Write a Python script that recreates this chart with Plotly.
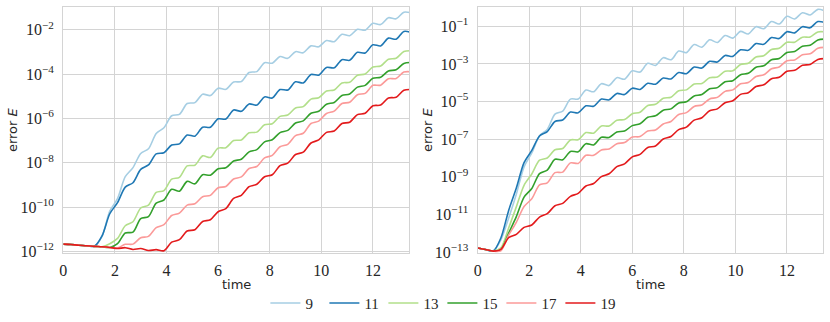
import plotly.graph_objects as go
from plotly.subplots import make_subplots

# time samples (same grid for both panels)
TIME = [0.0, 0.3, 0.6, 0.9, 1.2, 1.5, 1.8, 2.1, 2.4, 2.7, 3.0, 3.3, 3.6, 3.9,
        4.2, 4.5, 4.8, 5.1, 5.4, 5.7, 6.0, 6.3, 6.6, 6.9, 7.2, 7.5, 7.8, 8.1,
        8.4, 8.7, 9.0, 9.3, 9.6, 9.9, 10.2, 10.5, 10.8, 11.1, 11.4, 11.7,
        12.0, 12.3, 12.6, 12.9, 13.2, 13.5]

LABELS = ['9', '11', '13', '15', '17', '19']
COLORS = ['#a6cee3', '#1f78b4', '#b2df8a', '#33a02c', '#fb9a99', '#e31a1c']

# log10 of the error E, left panel
LEFT_9 = [-11.67, -11.69, -11.72, -11.74, -11.77, -11.32, -10.18, -9.62, -8.63, -8.22,
          -7.58, -7.37, -6.68, -6.42, -5.88, -5.82, -5.33, -5.29, -4.91, -4.97,
          -4.64, -4.69, -4.36, -4.34, -3.93, -3.89, -3.49, -3.51, -3.21, -3.29,
          -2.99, -3.04, -2.73, -2.77, -2.49, -2.54, -2.21, -2.27, -1.98, -2.02,
          -1.71, -1.77, -1.46, -1.51, -1.21, -1.24]
LEFT_11 = [-11.67, -11.69, -11.72, -11.74, -11.77, -11.3, -10.3, -9.8, -9.1, -8.9,
           -8.3, -8.1, -7.6, -7.55, -7.2, -7.15, -6.75, -6.8, -6.4, -6.4,
           -6.02, -6.03, -5.62, -5.68, -5.35, -5.4, -5.03, -5.08, -4.7, -4.72,
           -4.35, -4.4, -4.02, -4.05, -3.7, -3.72, -3.35, -3.38, -3.02, -3.05,
           -2.68, -2.73, -2.38, -2.43, -2.08, -2.13]
LEFT_13 = [-11.67, -11.69, -11.72, -11.74, -11.77, -11.79, -11.65, -11.41, -10.84, -10.66,
           -10.04, -9.91, -9.34, -9.26, -8.74, -8.66, -8.14, -8.11, -7.69, -7.76,
           -7.34, -7.32, -7.0, -6.97, -6.65, -6.62, -6.29, -6.24, -5.91, -5.85,
           -5.53, -5.47, -5.13, -5.07, -4.76, -4.72, -4.4, -4.37, -4.05, -4.0,
           -3.68, -3.64, -3.33, -3.29, -2.98, -2.95]
LEFT_15 = [-11.67, -11.69, -11.72, -11.74, -11.77, -11.79, -11.82, -11.65, -11.17, -11.13,
           -10.52, -10.43, -9.82, -9.68, -9.2, -9.28, -8.84, -8.95, -8.54, -8.56,
           -8.27, -8.23, -7.92, -7.84, -7.51, -7.41, -7.06, -6.96, -6.64, -6.54,
           -6.21, -6.11, -5.77, -5.68, -5.36, -5.28, -4.97, -4.9, -4.59, -4.51,
           -4.19, -4.14, -3.86, -3.81, -3.52, -3.48]
LEFT_17 = [-11.67, -11.69, -11.72, -11.74, -11.77, -11.79, -11.82, -11.84, -11.68, -11.67,
           -11.38, -11.32, -10.93, -10.79, -10.38, -10.27, -9.91, -9.85, -9.53, -9.47,
           -9.13, -9.07, -8.73, -8.64, -8.26, -8.17, -7.78, -7.67, -7.28, -7.17,
           -6.78, -6.67, -6.23, -6.12, -5.78, -5.67, -5.33, -5.27, -4.93, -4.87,
           -4.51, -4.5, -4.21, -4.2, -3.91, -3.9]
LEFT_19 = [-11.67, -11.69, -11.72, -11.74, -11.77, -11.79, -11.82, -11.87, -11.83, -11.91,
           -11.87, -11.96, -11.92, -11.97, -11.58, -11.47, -11.08, -11.02, -10.65, -10.57,
           -10.21, -10.07, -9.61, -9.47, -9.08, -8.97, -8.63, -8.54, -8.13, -8.02,
           -7.63, -7.52, -7.11, -6.97, -6.63, -6.57, -6.23, -6.17, -5.83, -5.77,
           -5.43, -5.4, -5.08, -5.05, -4.73, -4.7]

# log10 of the error E, right panel
RIGHT_9 = [-12.78, -12.86, -12.95, -12.35, -11.2, -9.93, -8.47, -7.73, -6.82, -6.48,
           -5.67, -5.51, -4.87, -4.87, -4.39, -4.48, -4.05, -4.15, -3.73, -3.81,
           -3.37, -3.43, -2.97, -3.08, -2.67, -2.78, -2.32, -2.4, -1.97, -2.11,
           -1.72, -1.86, -1.49, -1.63, -1.27, -1.41, -1.02, -1.13, -0.75, -0.88,
           -0.47, -0.61, -0.28, -0.4, -0.1, -0.2]
RIGHT_11 = [-12.78, -12.86, -12.95, -12.25, -10.8, -9.6, -8.25, -7.6, -6.83, -6.6,
            -6.06, -5.98, -5.56, -5.6, -5.23, -5.25, -4.87, -4.91, -4.57, -4.63,
            -4.29, -4.36, -4.03, -4.08, -3.75, -3.8, -3.46, -3.52, -3.17, -3.22,
            -2.86, -2.9, -2.55, -2.6, -2.25, -2.28, -1.92, -1.96, -1.6, -1.65,
            -1.29, -1.35, -1.02, -1.08, -0.75, -0.81]
RIGHT_13 = [-12.78, -12.86, -12.95, -12.78, -11.73, -10.6, -9.45, -8.85, -8.12, -8.0,
            -7.56, -7.5, -7.04, -7.03, -6.65, -6.68, -6.3, -6.3, -5.99, -5.96,
            -5.65, -5.57, -5.21, -5.15, -4.83, -4.77, -4.43, -4.38, -4.07, -4.04,
            -3.73, -3.7, -3.39, -3.37, -3.03, -2.97, -2.63, -2.57, -2.23, -2.17,
            -1.85, -1.85, -1.58, -1.57, -1.3, -1.3]
RIGHT_15 = [-12.78, -12.86, -12.95, -12.88, -12.0, -11.12, -10.08, -9.62, -8.83, -8.64,
            -8.07, -8.1, -7.65, -7.67, -7.24, -7.31, -6.9, -6.91, -6.62, -6.57,
            -6.28, -6.18, -5.84, -5.76, -5.46, -5.39, -5.08, -5.01, -4.7, -4.63,
            -4.32, -4.26, -3.95, -3.89, -3.58, -3.5, -3.18, -3.1, -2.78, -2.71,
            -2.39, -2.34, -2.06, -2.01, -1.73, -1.68]
RIGHT_17 = [-12.78, -12.86, -12.95, -12.93, -12.1, -11.42, -10.58, -10.17, -9.43, -9.32,
            -8.78, -8.75, -8.26, -8.29, -7.86, -7.86, -7.57, -7.52, -7.24, -7.18,
            -6.89, -6.86, -6.57, -6.51, -6.19, -6.06, -5.69, -5.59, -5.26, -5.18,
            -4.86, -4.78, -4.46, -4.38, -4.06, -3.99, -3.67, -3.58, -3.26, -3.16,
            -2.83, -2.79, -2.51, -2.46, -2.17, -2.12]
RIGHT_19 = [-12.78, -12.86, -12.95, -12.86, -12.24, -12.06, -11.69, -11.56, -11.14, -10.96,
            -10.54, -10.41, -10.04, -9.88, -9.49, -9.36, -8.99, -8.84, -8.46, -8.31,
            -7.94, -7.81, -7.44, -7.36, -6.99, -6.86, -6.49, -6.36, -5.99, -5.86,
            -5.49, -5.39, -5.06, -4.96, -4.62, -4.53, -4.2, -4.11, -3.79, -3.71,
            -3.39, -3.34, -3.07, -3.03, -2.76, -2.72]

LEFT = [LEFT_9, LEFT_11, LEFT_13, LEFT_15, LEFT_17, LEFT_19]
RIGHT = [RIGHT_9, RIGHT_11, RIGHT_13, RIGHT_15, RIGHT_17, RIGHT_19]

X_TICKS = [0, 2, 4, 6, 8, 10, 12]
LEFT_EXP = [-12, -10, -8, -6, -4, -2]
RIGHT_EXP = [-13, -11, -9, -7, -5, -3, -1]

GRID = '#d4d4d4'
TEXT = '#262626'
SERIF = 'Liberation Serif, Times New Roman, serif'
SANS = 'DejaVu Sans, sans-serif'


def sup(e):
    return f'10<sup>\u2212{abs(e)}</sup>'


fig = make_subplots(rows = 1, cols = 2, horizontal_spacing = 0.1)

for k, (label, color) in enumerate(zip(LABELS, COLORS)):
    for col, data in ((1, LEFT), (2, RIGHT)):
        fig.add_trace(
            go.Scatter(
                x = TIME,
                y = [10 ** v for v in data[k]],
                mode = 'lines',
                name = label,
                legendgroup = label,
                showlegend = col == 1,
                line = {'color': color, 'width': 1.6, 'shape': 'spline', 'smoothing': 0.8},
            ),
            row = 1,
            col = col
        )

axis_common = dict(
    showline = True,
    mirror = True,
    linecolor = GRID,
    linewidth = 1.3,
    gridcolor = GRID,
    gridwidth = 1,
    zeroline = False,
    ticks = '',
    automargin = False,
    tickfont = {'family': SERIF, 'size': 16, 'color': TEXT},
)

fig.update_xaxes(range = [0, 13.4], tickvals = X_TICKS, ticklabelstandoff = 3, **axis_common)
fig.update_yaxes(type = 'log', ticklabelstandoff = 5, **axis_common)

fig.update_xaxes(domain = [0.0763, 0.4928], row = 1, col = 1)
fig.update_xaxes(domain = [0.5755, 0.9916], row = 1, col = 2)
fig.update_yaxes(
    domain = [0.2143, 0.978],
    range = [-12.07, -0.98],
    tickvals = [10 ** e for e in LEFT_EXP],
    ticktext = [sup(e) for e in LEFT_EXP],
    row = 1,
    col = 1
)
fig.update_yaxes(
    domain = [0.2143, 0.978],
    range = [-13.05, 0.02],
    tickvals = [10 ** e for e in RIGHT_EXP],
    ticktext = [sup(e) for e in RIGHT_EXP],
    row = 1,
    col = 2
)

# axis titles
titles = []
for xc, xl in ((0.2845, 0.0145), (0.7836, 0.5145)):
    titles.append({
        'text': 'time', 'x': xc, 'y': 0.115, 'xref': 'paper', 'yref': 'paper',
        'xanchor': 'center', 'yanchor': 'middle', 'showarrow': False,
        'font': {'family': SANS, 'size': 13, 'color': TEXT},
    })
    titles.append({
        'text': 'error <i>E</i>', 'x': xl, 'y': 0.596, 'xref': 'paper', 'yref': 'paper',
        'xanchor': 'center', 'yanchor': 'middle', 'textangle': -90, 'showarrow': False,
        'font': {'family': SANS, 'size': 13, 'color': TEXT},
    })

fig.update_layout(
    width = 830,
    height = 322,
    plot_bgcolor = 'white',
    paper_bgcolor = 'white',
    margin = {'l': 0, 'r': 0, 't': 0, 'b': 0},
    annotations = titles,
    legend = {
        'orientation': 'h',
        'x': 0.533,
        'xanchor': 'center',
        'y': 0.058,
        'yanchor': 'middle',
        'font': {'family': SERIF, 'size': 15, 'color': TEXT},
        'entrywidth': 14,
        'itemwidth': 30,
    },
)

# drop the page's default body margin so the figure sits at the window's corner
fig.write_html(
    'out.html',
    config = {'displayModeBar': False},
    post_script = "document.body.style.margin = '0';"
)
